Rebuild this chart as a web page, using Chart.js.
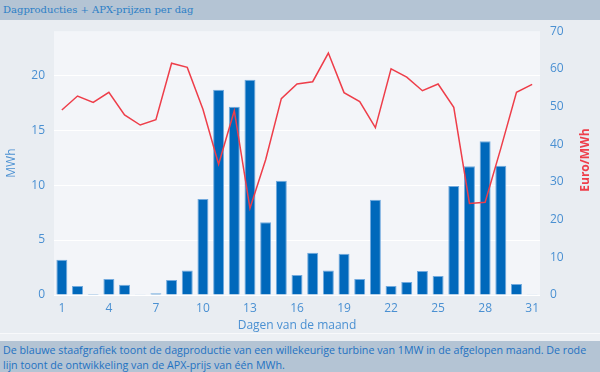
<!DOCTYPE html>
<html>
<head>
<meta charset="utf-8">
<script src="https://cdn.jsdelivr.net/npm/chart.js@4"></script>
<style>
  html, body { margin: 0; padding: 0; width: 600px; height: 372px; overflow: hidden; background: #e9edf2; }
  #titel { height: 20px; background: #b4c4d4; color: #2c7fc6; font: 10px "DejaVu Serif", serif; line-height: 19px; padding-left: 3px; box-sizing: border-box; }
  #wrap { position: relative; width: 600px; height: 313px; }
  #strip { height: 8px; background: #edf0f4; border-top: 1px solid #f8f9fb; box-sizing: border-box; }
  #uitleg { height: 31px; background: #b4c4d4; color: #1f72c2; font: 10.7px "Open Sans", sans-serif; line-height: 14.5px; padding: 2px 0 0 3px; box-sizing: border-box; white-space: nowrap; }
</style>
</head>
<body>
<div id="titel">Dagproducties + APX-prijzen per dag</div>
<div id="wrap"><canvas id="grafiek"></canvas></div>
<div id="strip"></div>
<div id="uitleg">De blauwe staafgrafiek toont de dagproductie van een willekeurige turbine van 1MW in de afgelopen maand. De rode<br>lijn toont de ontwikkeling van de APX-prijs van één MWh.</div>
<script>
// data
const dagen = Array.from({ length: 31 }, (_, i) => String(i + 1));
const productie = [3.2, 0.82, 0.09, 1.45, 0.94, 0.03, 0.15, 1.36, 2.24, 8.73,
  18.68, 17.13, 19.58, 6.62, 10.39, 1.81, 3.84, 2.24, 3.75, 1.45,
  8.67, 0.82, 1.18, 2.18, 1.72, 9.91, 11.72, 13.99, 11.75, 1.0, 0.03];
const apxPrijs = [49.1, 52.8, 51.1, 53.8, 47.8, 45.1, 46.5, 61.5, 60.4, 49.3,
  34.7, 48.9, 23.0, 35.9, 52.1, 56.0, 56.6, 64.2, 53.7, 51.3,
  44.4, 60.0, 57.8, 54.2, 56.0, 49.8, 24.3, 24.6, 38.9, 53.8, 55.9];

const BLAUW = "#4a90d2";
const ROOD = "#ee3e4a";
// kleine lineHeight zodat de labels geen extra ruimte boven de grafiek vragen
const tickFont = { family: "Open Sans", size: 12, lineHeight: 0.2 };

const achtergrond = {
  id: "achtergrond",
  beforeDraw(c) {
    const a = c.chartArea, ctx = c.ctx;
    ctx.save();
    ctx.fillStyle = "#f3f5f9";
    ctx.fillRect(a.left, a.top, a.right - a.left, a.bottom - a.top);
    ctx.restore();
  },
  afterDraw(c) {
    // rechter as-titel leest van onder naar boven
    const a = c.chartArea, ctx = c.ctx;
    ctx.save();
    ctx.translate(586, (a.top + a.bottom) / 2 - 3);
    ctx.rotate(-Math.PI / 2);
    ctx.fillStyle = ROOD;
    ctx.font = "bold 12px 'Open Sans', sans-serif";
    ctx.textAlign = "center";
    ctx.textBaseline = "middle";
    ctx.fillText("Euro/MWh", 0, 0);
    ctx.restore();
  }
};

new Chart(document.getElementById("grafiek"), {
  data: {
    labels: dagen,
    datasets: [
      { type: "line", data: apxPrijs, yAxisID: "y2", borderColor: ROOD, borderWidth: 1.5,
        pointRadius: 0, tension: 0, order: 0 },
      { type: "bar", data: productie, yAxisID: "y", backgroundColor: "#0068bb",
        borderColor: "#72aade", borderWidth: 1, barPercentage: 0.7, categoryPercentage: 1, order: 1 }
    ]
  },
  options: {
    responsive: true,
    maintainAspectRatio: false,
    animation: false,
    layout: { padding: { top: 11, left: 0, right: 0, bottom: 0 } },
    plugins: { legend: { display: false }, tooltip: { enabled: false } },
    scales: {
      x: {
        grid: { display: false, drawTicks: false },
        border: { display: false },
        ticks: {
          autoSkip: false, maxRotation: 0, padding: 6, color: BLAUW,
          font: { family: "Open Sans", size: 12 },
          callback: (v, i) => i % 3 === 0 ? dagen[i] : ""
        },
        title: { display: true, text: "Dagen van de maand", color: BLAUW,
          font: { family: "Open Sans", size: 12 }, padding: { top: 3, bottom: 0 } },
        afterFit: s => { s.height = 38; }
      },
      y: {
        position: "left", min: 0, max: 24,
        grid: { color: "#ffffff", lineWidth: 1, drawTicks: false },
        border: { display: false },
        ticks: { stepSize: 5, padding: 9, color: BLAUW, font: tickFont },
        afterBuildTicks: s => { s.ticks = s.ticks.filter(t => t.value <= 20); },
        title: { display: true, text: "MWh", color: BLAUW,
          font: { family: "Open Sans", size: 12 }, padding: { top: 4, bottom: 0 } },
        afterFit: s => { s.width = 54; }
      },
      y2: {
        position: "right", min: 0, max: 70,
        grid: { display: false, drawTicks: false },
        border: { display: false },
        ticks: { stepSize: 10, padding: 10, color: BLAUW, font: tickFont },
        afterFit: s => { s.width = 60; }
      }
    }
  },
  plugins: [achtergrond]
});
</script>
</body>
</html>
